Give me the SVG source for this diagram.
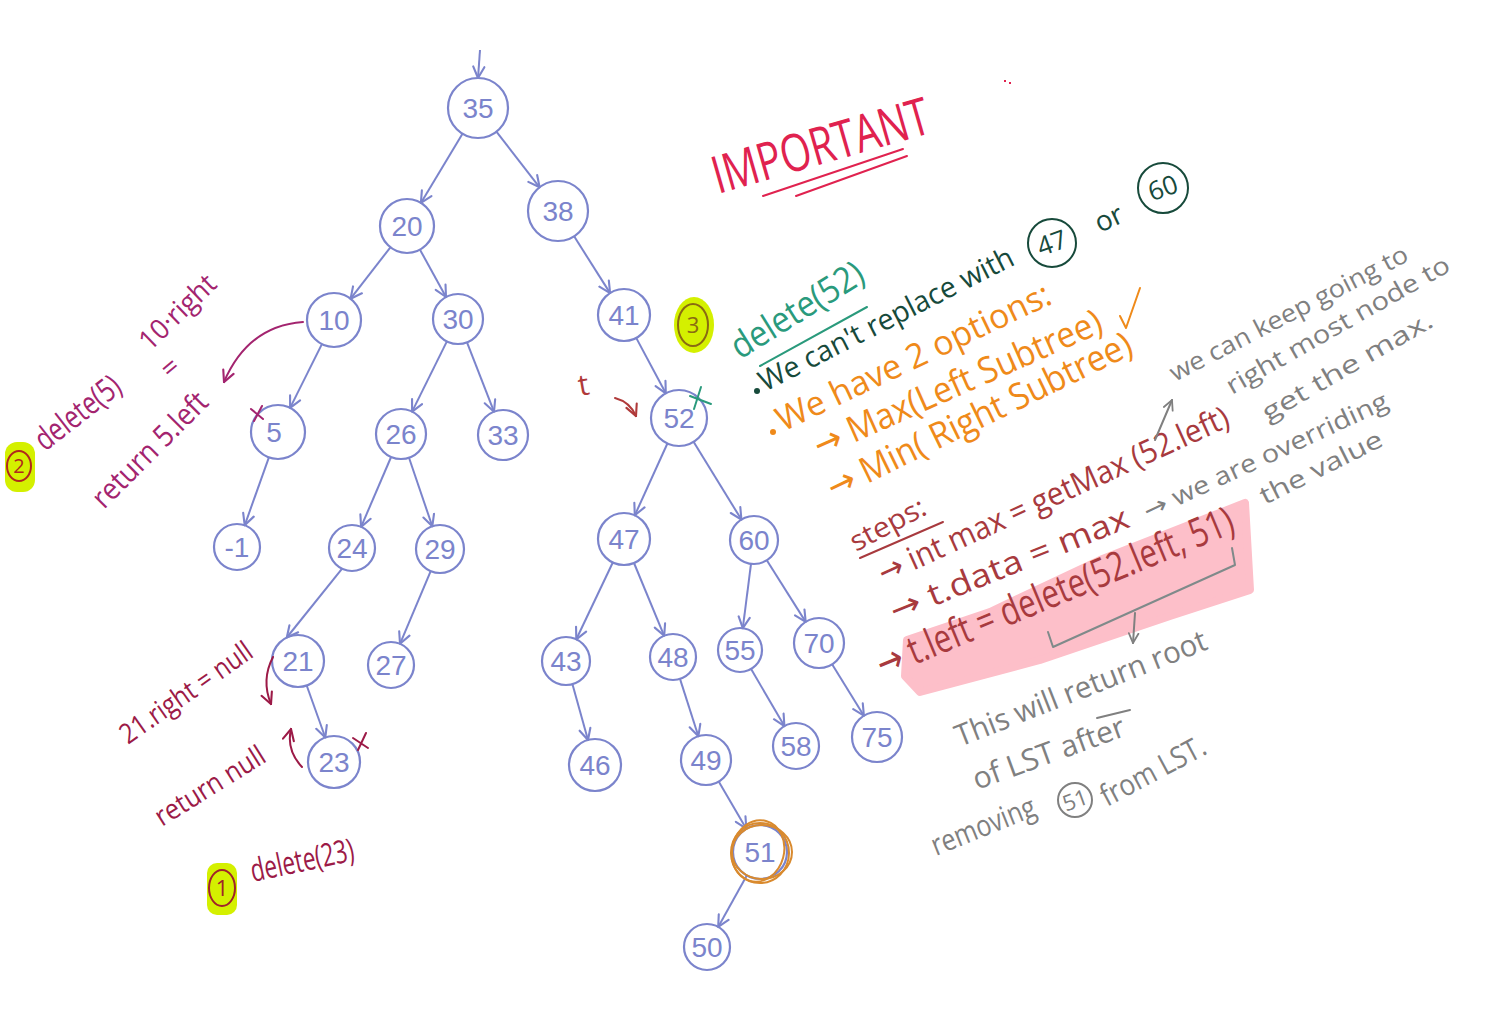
<svg xmlns="http://www.w3.org/2000/svg" width="1490" height="1034" viewBox="0 0 1490 1034">
<style>
.nd{fill:none;stroke:#7b84cc;stroke-width:2.2}
.nt{font-family:"Liberation Sans",Arial,sans-serif;font-size:28px;fill:#7b84cc;text-anchor:middle;dominant-baseline:central}
.edge{stroke:#7b84cc;stroke-width:2;fill:none;marker-end:url(#ah)}
.hw{font-family:"Open Sans","Liberation Sans",sans-serif}
.ar{font-family:"DejaVu Sans",sans-serif}
.imp{fill:#e0224f}
.teal{fill:#2a9a7c}
.dg{fill:#174a3b}
.or{fill:#ef8a1a}
.dr{fill:#a83a3e}
.gr{fill:#808080}
.mg{fill:#a3246f}
.mr{fill:#9c1a47}
.ln{fill:none;stroke-width:2;stroke-linecap:round;stroke-linejoin:round}
</style>
<defs>
<marker id="ah" viewBox="0 0 10 10" refX="9" refY="5" markerWidth="14" markerHeight="14" markerUnits="userSpaceOnUse" orient="auto">
<path d="M1,1 L9,5 L1,9" fill="none" stroke="#7b84cc" stroke-width="1.5" stroke-linecap="round" stroke-linejoin="round"/>
</marker>
<marker id="ahm" viewBox="0 0 10 10" refX="9" refY="5" markerWidth="14" markerHeight="14" markerUnits="userSpaceOnUse" orient="auto">
<path d="M1,1 L9,5 L1,9" fill="none" stroke="#a3246f" stroke-width="1.5" stroke-linecap="round"/>
</marker>
<marker id="ahr" viewBox="0 0 10 10" refX="9" refY="5" markerWidth="14" markerHeight="14" markerUnits="userSpaceOnUse" orient="auto">
<path d="M1,1 L9,5 L1,9" fill="none" stroke="#9c1a47" stroke-width="1.5" stroke-linecap="round"/>
</marker>
<marker id="ahd" viewBox="0 0 10 10" refX="9" refY="5" markerWidth="14" markerHeight="14" markerUnits="userSpaceOnUse" orient="auto">
<path d="M1,1 L9,5 L1,9" fill="none" stroke="#b03a3a" stroke-width="1.5" stroke-linecap="round"/>
</marker>
<marker id="ahg" viewBox="0 0 10 10" refX="9" refY="5" markerWidth="12" markerHeight="12" markerUnits="userSpaceOnUse" orient="auto">
<path d="M1,1 L9,5 L1,9" fill="none" stroke="#808080" stroke-width="1.5" stroke-linecap="round"/>
</marker>
</defs>
<rect width="1490" height="1034" fill="#ffffff"/>

<g id="connectors">
<path class="edge" d="M480,50 L478,78"/>
<path class="edge" d="M462.5,133.7 L420.9,202.9"/>
<path class="edge" d="M496.4,131.7 L539.6,187.3"/>
<path class="edge" d="M390.4,247.3 L350.6,298.7"/>
<path class="edge" d="M420,249.7 L446,297"/>
<path class="edge" d="M574.1,236.3 L610.1,293.1"/>
<path class="edge" d="M321.9,344.1 L290.1,407.9"/>
<path class="edge" d="M446.9,341.4 L412.1,411.6"/>
<path class="edge" d="M467,342.3 L494,411.7"/>
<path class="edge" d="M636.2,337.9 L665.8,393.3"/>
<path class="edge" d="M268.9,457.4 L244.7,525.3"/>
<path class="edge" d="M391.1,457 L361.1,526.9"/>
<path class="edge" d="M409,457.7 L432.3,526.3"/>
<path class="edge" d="M667.4,443.5 L634.8,515.3"/>
<path class="edge" d="M693.7,441.9 L741.4,519.6"/>
<path class="edge" d="M342.1,568.7 L286.8,637.5"/>
<path class="edge" d="M430.7,571.1 L400,643.8"/>
<path class="edge" d="M612.8,562.5 L576.3,639.3"/>
<path class="edge" d="M634,563 L664.2,635.8"/>
<path class="edge" d="M751,563.8 L742.8,628.2"/>
<path class="edge" d="M766.8,560.3 L805.7,621.9"/>
<path class="edge" d="M306.7,685.5 L325.3,737.5"/>
<path class="edge" d="M572.4,684.1 L588,740"/>
<path class="edge" d="M680,678.9 L698.4,736.2"/>
<path class="edge" d="M751.1,669 L784.4,726.1"/>
<path class="edge" d="M832.1,664.3 L863.9,715.7"/>
<path class="edge" d="M718.7,781.6 L746.3,828.7"/>
<path class="edge" d="M746.8,875.6 L718.2,926.9"/>
</g>

<g id="n35"><circle class="nd" cx="478" cy="108" r="30"/><text class="nt" x="478" y="108">35</text></g>
<g id="n20"><circle class="nd" cx="407" cy="226" r="27"/><text class="nt" x="407" y="226">20</text></g>
<g id="n38"><circle class="nd" cx="558" cy="211" r="30"/><text class="nt" x="558" y="211">38</text></g>
<g id="n10"><circle class="nd" cx="334" cy="320" r="27"/><text class="nt" x="334" y="320">10</text></g>
<g id="n30"><circle class="nd" cx="458" cy="319" r="25"/><text class="nt" x="458" y="319">30</text></g>
<g id="n41"><circle class="nd" cx="624" cy="315" r="26"/><text class="nt" x="624" y="315">41</text></g>
<g id="n5"><circle class="nd" cx="278" cy="432" r="27"/><text class="nt" x="274" y="432">5</text></g>
<g id="n26"><circle class="nd" cx="401" cy="434" r="25"/><text class="nt" x="401" y="434">26</text></g>
<g id="n33"><circle class="nd" cx="503" cy="435" r="25"/><text class="nt" x="503" y="435">33</text></g>
<g id="n52"><circle class="nd" cx="679" cy="418" r="28"/><text class="nt" x="679" y="418">52</text></g>
<g id="nm1"><circle class="nd" cx="237" cy="547" r="23"/><text class="nt" x="237" y="547">-1</text></g>
<g id="n24"><circle class="nd" cx="352" cy="548" r="23"/><text class="nt" x="352" y="548">24</text></g>
<g id="n29"><circle class="nd" cx="440" cy="549" r="24"/><text class="nt" x="440" y="549">29</text></g>
<g id="n47"><circle class="nd" cx="624" cy="539" r="26"/><text class="nt" x="624" y="539">47</text></g>
<g id="n60"><circle class="nd" cx="754" cy="540" r="24"/><text class="nt" x="754" y="540">60</text></g>
<g id="n21"><circle class="nd" cx="298" cy="661" r="26"/><text class="nt" x="298" y="661">21</text></g>
<g id="n27"><circle class="nd" cx="391" cy="665" r="23"/><text class="nt" x="391" y="665">27</text></g>
<g id="n43"><circle class="nd" cx="566" cy="661" r="24"/><text class="nt" x="566" y="661">43</text></g>
<g id="n48"><circle class="nd" cx="673" cy="657" r="23"/><text class="nt" x="673" y="657">48</text></g>
<g id="n55"><circle class="nd" cx="740" cy="650" r="22"/><text class="nt" x="740" y="650">55</text></g>
<g id="n70"><circle class="nd" cx="819" cy="643" r="25"/><text class="nt" x="819" y="643">70</text></g>
<g id="n23"><circle class="nd" cx="334" cy="762" r="26"/><text class="nt" x="334" y="762">23</text></g>
<g id="n46"><circle class="nd" cx="595" cy="765" r="26"/><text class="nt" x="595" y="765">46</text></g>
<g id="n49"><circle class="nd" cx="706" cy="760" r="25"/><text class="nt" x="706" y="760">49</text></g>
<g id="n58"><circle class="nd" cx="796" cy="746" r="23"/><text class="nt" x="796" y="746">58</text></g>
<g id="n75"><circle class="nd" cx="877" cy="737" r="25"/><text class="nt" x="877" y="737">75</text></g>
<g id="n51"><circle class="nd" cx="760" cy="852" r="27"/><text class="nt" x="760" y="852">51</text>
<g fill="none" stroke="#d98a2e" stroke-width="2">
<ellipse cx="760" cy="853" rx="29" ry="30"/>
<ellipse cx="758" cy="851" rx="26" ry="31" transform="rotate(15 758 851)"/>
<ellipse cx="762" cy="852" rx="30" ry="27"/>
</g></g>
<g id="n50"><circle class="nd" cx="707" cy="947" r="23"/><text class="nt" x="707" y="947">50</text></g>

<g id="important">
<text class="hw imp" x="718" y="194" font-size="52" textLength="224" lengthAdjust="spacingAndGlyphs" transform="rotate(-16 718 194)">IMPORTANT</text>
<path class="ln" stroke="#e0224f" d="M763,196 L903,149 M796,196 L907,156"/>
<rect x="1004" y="80" width="2" height="2" fill="#e0224f"/><rect x="1009" y="82" width="2" height="2" fill="#e0224f"/>
</g>

<g id="delete52">
<text class="hw teal" x="740" y="360" font-size="36" textLength="150" lengthAdjust="spacingAndGlyphs" transform="rotate(-32 740 360)">delete(52)</text>
<path class="ln" stroke="#2a9a7c" d="M760,366 L867,307"/>
</g>

<g id="cantReplace">
<circle cx="757" cy="391" r="3" fill="#174a3b"/>
<text class="hw dg" x="765" y="392" font-size="29" textLength="282" lengthAdjust="spacingAndGlyphs" transform="rotate(-27 765 392)">We can't replace with</text>
<circle cx="1052" cy="243" r="24" fill="none" stroke="#174a3b" stroke-width="2"/>
<text class="hw dg" x="1052" y="252" font-size="26" text-anchor="middle" transform="rotate(-20 1052 243)">47</text>
<text class="hw dg" x="1100" y="233" font-size="28" transform="rotate(-25 1100 233)">or</text>
<circle cx="1163" cy="188" r="25" fill="none" stroke="#174a3b" stroke-width="2"/>
<text class="hw dg" x="1163" y="197" font-size="26" text-anchor="middle" transform="rotate(-20 1163 188)">60</text>
</g>

<g id="options">
<circle cx="773" cy="432" r="3" fill="#ef8a1a"/>
<text class="hw or" x="783" y="432" font-size="34" textLength="300" lengthAdjust="spacingAndGlyphs" transform="rotate(-25.5 783 432)">We have 2 options:</text>
<text class="hw or" x="820" y="458" font-size="36" textLength="312" lengthAdjust="spacingAndGlyphs" transform="rotate(-24 820 458)"><tspan class="ar">→</tspan> Max(Left Subtree)</text>
<path class="ln" stroke="#ef8a1a" d="M1120,316 L1126,328 L1140,288"/>
<text class="hw or" x="834" y="500" font-size="36" textLength="335" lengthAdjust="spacingAndGlyphs" transform="rotate(-26 834 500)"><tspan class="ar">→</tspan> Min( Right Subtree)</text>
</g>

<g id="steps">
<path d="M907,640 L990,612 L1100,560 L1245,503 L1250,590 L1170,616 L1040,660 L920,692 L905,676 Z" fill="#fdbfc9" stroke="#fdbfc9" stroke-width="8" stroke-linejoin="round"/>
<text class="hw dr" x="856" y="552" font-size="28" textLength="82" lengthAdjust="spacingAndGlyphs" transform="rotate(-28 856 552)">steps:</text>
<path class="ln" stroke="#a83a3e" d="M860,558 L943,522"/>
<text class="hw dr" x="884" y="584" font-size="32" textLength="382" lengthAdjust="spacingAndGlyphs" transform="rotate(-24.5 884 584)"><tspan class="ar">→</tspan> int max = getMax (52.left)</text>
<text class="hw dr" x="895" y="622" font-size="32" textLength="255" lengthAdjust="spacingAndGlyphs" transform="rotate(-22 895 622)"><tspan class="ar">→</tspan>  t.data = max</text>
<text class="hw dr" x="883" y="678" font-size="40" textLength="383" lengthAdjust="spacingAndGlyphs" transform="rotate(-22.5 883 678)"><tspan class="ar">→</tspan> t.left = delete(52.left, 51)</text>
<path class="ln" stroke="#7f8a8a" d="M1048,632 L1053,647 L1235,565 L1232,548"/>
<path class="ln" stroke="#808080" marker-end="url(#ahg)" d="M1135,613 L1133,643"/>
</g>

<g id="grayNotes">
<path class="ln" stroke="#808080" marker-end="url(#ahg)" d="M1155,440 L1172,400"/>
<text class="hw gr" x="1175" y="382" font-size="25" textLength="265" lengthAdjust="spacingAndGlyphs" transform="rotate(-27.4 1175 382)">we can keep going to</text>
<text class="hw gr" x="1232" y="395" font-size="25" textLength="253" lengthAdjust="spacingAndGlyphs" transform="rotate(-29.6 1232 395)">right most node to</text>
<text class="hw gr" x="1268" y="422" font-size="25" textLength="193" lengthAdjust="spacingAndGlyphs" transform="rotate(-30 1268 422)">get the max.</text>
<text class="hw gr" x="1148" y="520" font-size="25" textLength="267" lengthAdjust="spacingAndGlyphs" transform="rotate(-25 1148 520)"><tspan class="ar">→</tspan> we are overriding</text>
<text class="hw gr" x="1265" y="505" font-size="25" textLength="134" lengthAdjust="spacingAndGlyphs" transform="rotate(-26.6 1265 505)">the value</text>
<text class="hw gr" x="960" y="747" font-size="30" textLength="268" lengthAdjust="spacingAndGlyphs" transform="rotate(-21.5 960 747)">This will return root</text>
<text class="hw gr" x="977" y="790" font-size="30" textLength="160" lengthAdjust="spacingAndGlyphs" transform="rotate(-20 977 790)">of LST after</text>
<path class="ln" stroke="#808080" d="M1097,718 L1130,710"/>
<text class="hw gr" x="936" y="856" font-size="30" textLength="110" lengthAdjust="spacingAndGlyphs" transform="rotate(-22 936 856)">removing</text>
<circle cx="1075" cy="800" r="17" fill="none" stroke="#808080" stroke-width="2"/>
<text class="hw gr" x="1075" y="808" font-size="22" text-anchor="middle" transform="rotate(-20 1075 800)">51</text>
<text class="hw gr" x="1107" y="807" font-size="30" textLength="115" lengthAdjust="spacingAndGlyphs" transform="rotate(-28 1107 807)">from LST.</text>
</g>

<g id="delete5">
<rect x="5" y="442" width="30" height="50" rx="12" fill="#d4f000"/>
<ellipse cx="19" cy="466" rx="12" ry="15" fill="none" stroke="#b0281c" stroke-width="2"/>
<text x="19" y="473" font-size="20" text-anchor="middle" fill="#b0281c" class="hw">2</text>
<text class="hw mg" x="45" y="452" font-size="32" textLength="100" lengthAdjust="spacingAndGlyphs" transform="rotate(-38 45 452)">delete(5)</text>
<text class="hw mg" x="150" y="352" font-size="28" textLength="95" lengthAdjust="spacingAndGlyphs" transform="rotate(-44 150 352)">10·right</text>
<text class="hw mg" x="170" y="380" font-size="28" transform="rotate(-40 170 380)">=</text>
<text class="hw mg" x="104" y="510" font-size="30" textLength="150" lengthAdjust="spacingAndGlyphs" transform="rotate(-45 104 510)">return 5.left</text>
<path class="ln" stroke="#a3246f" marker-end="url(#ahm)" d="M303,322 Q248,326 224,382"/>
<path class="ln" stroke="#a3246f" d="M251,409 L263,419 M262,406 L254,421"/>
</g>

<g id="delete23">
<text class="hw mr" x="128" y="745" font-size="28" textLength="155" lengthAdjust="spacingAndGlyphs" transform="rotate(-35 128 745)">21.right = null</text>
<text class="hw mr" x="162" y="827" font-size="28" textLength="125" lengthAdjust="spacingAndGlyphs" transform="rotate(-32 162 827)">return null</text>
<path class="ln" stroke="#9c1a47" marker-end="url(#ahr)" d="M273,657 Q261,680 271,704"/>
<path class="ln" stroke="#9c1a47" marker-end="url(#ahr)" d="M302,767 Q286,750 291,729"/>
<path class="ln" stroke="#9c1a47" d="M353,738 L368,748 M366,733 L358,750"/>
<rect x="207" y="863" width="30" height="52" rx="10" fill="#d4f000"/>
<ellipse cx="222" cy="888" rx="13" ry="18" fill="none" stroke="#a0222a" stroke-width="2"/>
<text x="222" y="896" font-size="22" text-anchor="middle" fill="#a0222a" class="hw">1</text>
<text class="hw mr" x="253" y="882" font-size="32" textLength="105" lengthAdjust="spacingAndGlyphs" transform="rotate(-12 253 882)">delete(23)</text>
</g>

<g id="step3">
<ellipse cx="694" cy="325" rx="20" ry="28" fill="#d4f000"/>
<ellipse cx="693" cy="325" rx="15" ry="21" fill="none" stroke="#8a6a12" stroke-width="2"/>
<text x="693" y="333" font-size="22" text-anchor="middle" fill="#8a6a12" class="hw">3</text>
<text class="hw" x="580" y="396" font-size="30" fill="#b03a3a" transform="rotate(-10 580 396)">t</text>
<path class="ln" stroke="#b03a3a" marker-end="url(#ahd)" d="M615,398 Q630,402 636,416"/>
<path class="ln" stroke="#2a9a7c" d="M690,396 L711,404 M701,387 L694,409"/>
</g>
</svg>
